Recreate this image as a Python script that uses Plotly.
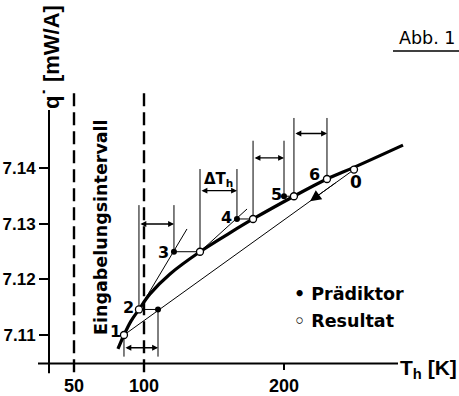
import plotly.graph_objects as go

# ---------------- data ----------------
# main (thick) curve  q(T)
curve_T = [81.4, 85.7, 90.7, 96.4, 104.3, 118.6, 140.0, 161.4, 177.9, 207.1, 230.7, 250.0, 285.0]
curve_q = [7.1075, 7.1100, 7.1125, 7.1146, 7.1174, 7.1210, 7.1250, 7.1284, 7.1309, 7.1350, 7.1381, 7.1402, 7.1442]

# results (open circles) 1..6
res_T = [85.7, 96.4, 140.0, 177.9, 207.1, 230.7]
res_q = [7.1100, 7.1146, 7.1250, 7.1309, 7.1350, 7.1381]
res_labels = ["1", "2", "3", "4", "5", "6"]

# predictors (filled dots) for steps 2..5
pred_T = [110.0, 121.4, 166.4, 200.0]
pred_q = [7.1146, 7.1250, 7.1309, 7.1350]

# start value 0
start_T = 250.0
start_q = 7.1398

# step interval markers (Delta T_h): start T, end T, arrow level, end of vertical bars
step_T0 = [85.7, 96.4, 140.0, 177.9, 207.1]
step_T1 = [110.0, 121.4, 166.4, 200.0, 230.7]
step_q_arrow = [7.1077, 7.1300, 7.1360, 7.1419, 7.1463]
step_q_bar = [7.1061, 7.1334, 7.1399, 7.1450, 7.1491]
step_q_from0 = [7.1100, 7.1146, 7.1250, 7.1309, 7.1350]
step_q_from1 = [7.1146, 7.1250, 7.1309, 7.1350, 7.1381]

# tangents (thin lines): start point -> end point
tan_T0 = [96.4, 140.0]
tan_q0 = [7.1146, 7.1250]
tan_T1 = [130.7, 173.6]
tan_q1 = [7.1291, 7.1327]

# direction arrow on the 0 -> 1 line (tail T, head T)
dir_T = [238.0, 218.6]

# interval boundaries (dashed)
interval_T = [50, 100]

x_ticks = [50, 100, 200]
y_ticks = [7.11, 7.12, 7.13, 7.14]

# ---------------- layout helpers ----------------
W, H = 459, 396
def px(x):
    return x / W
def py(y):
    return 1 - y / H

X_RANGE = [32.14, 325.0]
Y_RANGE = [7.10487, 7.159735]

fig = go.Figure()
thin = dict(color="black", width=1)

# thin line from start 0 to result 1
fig.add_trace(go.Scatter(x=[res_T[0], start_T], y=[res_q[0], start_q], mode="lines",
                         line=thin, showlegend=False, hoverinfo="skip"))

# tangents
for a, b, c, d in zip(tan_T0, tan_q0, tan_T1, tan_q1):
    fig.add_trace(go.Scatter(x=[a, c], y=[b, d], mode="lines", line=thin, showlegend=False, hoverinfo="skip"))

# predictor -> result horizontal connectors
for i in range(len(pred_T)):
    fig.add_trace(go.Scatter(x=[pred_T[i], res_T[i + 1]], y=[pred_q[i], res_q[i + 1]], mode="lines",
                             line=thin, showlegend=False, hoverinfo="skip"))

# step vertical bars
for t0, t1, qb, f0, f1 in zip(step_T0, step_T1, step_q_bar, step_q_from0, step_q_from1):
    fig.add_trace(go.Scatter(x=[t0, t0, None, t1, t1], y=[f0, qb, None, f1, qb], mode="lines",
                             line=thin, showlegend=False, hoverinfo="skip"))

# main curve
fig.add_trace(go.Scatter(x=curve_T, y=curve_q, mode="lines",
                         line=dict(color="black", width=3.2, shape="spline", smoothing=1.0),
                         showlegend=False, hoverinfo="skip"))

# predictors
fig.add_trace(go.Scatter(x=pred_T, y=pred_q, mode="markers", cliponaxis=False,
                         marker=dict(color="black", size=6), showlegend=False, name="Prädiktor"))
# results
fig.add_trace(go.Scatter(x=res_T + [start_T], y=res_q + [start_q], mode="markers", cliponaxis=False,
                         marker=dict(color="white", size=7, line=dict(color="black", width=1.3)),
                         showlegend=False, name="Resultat"))

shapes = []
# axis lines
shapes.append(dict(type="line", xref="paper", yref="paper", x0=px(49), x1=px(49), y0=py(112), y1=py(380),
                   line=dict(color="black", width=2)))
shapes.append(dict(type="line", xref="paper", yref="paper", x0=px(38), x1=px(398), y0=py(370), y1=py(370),
                   line=dict(color="black", width=2)))
# dashed interval lines
for t in interval_T:
    shapes.append(dict(type="line", xref="x", yref="paper", x0=t, x1=t, y0=py(95), y1=py(380),
                       line=dict(color="black", width=2.4, dash="13px,6px")))
# Abb. underline
shapes.append(dict(type="line", xref="paper", yref="paper", x0=px(393), x1=1.0, y0=py(52), y1=py(52),
                   line=dict(color="black", width=1.5)))

ann = []
bold = dict(family="DejaVu Sans", weight="bold", color="black")
lib_bold = dict(family="Liberation Sans", weight="bold", color="black")

# double arrows for step widths
for t0, t1, qa in zip(step_T0, step_T1, step_q_arrow):
    ann.append(dict(x=t1, y=qa, ax=t0, ay=qa, axref="x", ayref="y", xref="x", yref="y", text="",
                    showarrow=True, arrowhead=2, arrowside="end+start", arrowsize=0.9, arrowwidth=1.3,
                    arrowcolor="black", standoff=0, startstandoff=0))

# direction arrow on the 0 -> 1 line
slope = (start_q - res_q[0]) / (start_T - res_T[0])
dir_q = [res_q[0] + slope * (t - res_T[0]) for t in dir_T]
ann.append(dict(x=dir_T[1], y=dir_q[1], ax=dir_T[0], ay=dir_q[0], axref="x", ayref="y",
                xref="x", yref="y", text="", showarrow=True, arrowhead=2, arrowsize=2.2, arrowwidth=1,
                arrowcolor="black"))

# point labels
lab_T = [79.3, 88.6, 113.6, 158.6, 194.3, 222.1]
lab_q = [7.1107, 7.1150, 7.1249, 7.1311, 7.1353, 7.1390]
for t, q, s in zip(lab_T, lab_q, res_labels):
    ann.append(dict(x=t, y=q, text=s, showarrow=False, xanchor="center", yanchor="middle",
                    font=dict(size=16, **bold)))
ann.append(dict(x=251.5, y=7.1375, text="0", showarrow=False, xanchor="center", yanchor="middle",
                font=dict(size=17, **bold)))
ann.append(dict(x=152.9, y=7.1381, text="ΔT<sub>h</sub>", showarrow=False, xanchor="center", yanchor="middle",
                font=dict(size=15, **bold)))

# interval text
ann.append(dict(xref="paper", yref="paper", x=px(101), y=py(231), xanchor="center", yanchor="middle",
                text="Eingabelungsintervall", textangle=-90,
                showarrow=False, font=dict(size=17.5, **bold)))
# axis titles
ann.append(dict(xref="paper", yref="paper", x=px(52), y=py(58), xanchor="center", yanchor="middle",
                text="q˙ [mW/A]", textangle=-90,
                showarrow=False, font=dict(size=22, **lib_bold)))
ann.append(dict(xref="paper", yref="paper", x=px(398), y=py(376), xanchor="left", yanchor="middle",
                text="T<sub>h</sub> [K]", showarrow=False, font=dict(size=21, **lib_bold)))
# legend-like text
ann.append(dict(xref="paper", yref="paper", x=px(292), y=py(299), xanchor="left", yanchor="middle",
                text="• Prädiktor", showarrow=False, font=dict(size=17.5, **bold)))
ann.append(dict(xref="paper", yref="paper", x=px(292), y=py(327), xanchor="left", yanchor="middle",
                text="◦ Resultat", showarrow=False, font=dict(size=17.5, **bold)))
# figure number
ann.append(dict(xref="paper", yref="paper", x=px(397), y=py(39), xanchor="left", yanchor="middle",
                text="Abb. 1", showarrow=False, font=dict(size=17.5, family="DejaVu Sans", color="black")))

fig.update_layout(
    width=W, height=H, margin=dict(l=0, r=0, t=0, b=0),
    paper_bgcolor="white", plot_bgcolor="white",
    shapes=shapes, annotations=ann, showlegend=False,
    xaxis=dict(domain=[px(49), 1.0], range=X_RANGE, showgrid=False, zeroline=False, showline=False,
               tickvals=x_ticks, ticktext=[str(v) for v in x_ticks], ticks="outside", ticklen=6, tickwidth=1.5,
               tickcolor="black", tickfont=dict(size=18, **lib_bold)),
    yaxis=dict(domain=[py(370), py(60)], range=Y_RANGE, showgrid=False, zeroline=False, showline=False,
               tickvals=y_ticks, ticktext=["%.2f" % v for v in y_ticks], ticks="outside", ticklen=9, tickwidth=1.5,
               tickcolor="black", tickfont=dict(size=17, **lib_bold)),
)

fig.write_html("out.html")
